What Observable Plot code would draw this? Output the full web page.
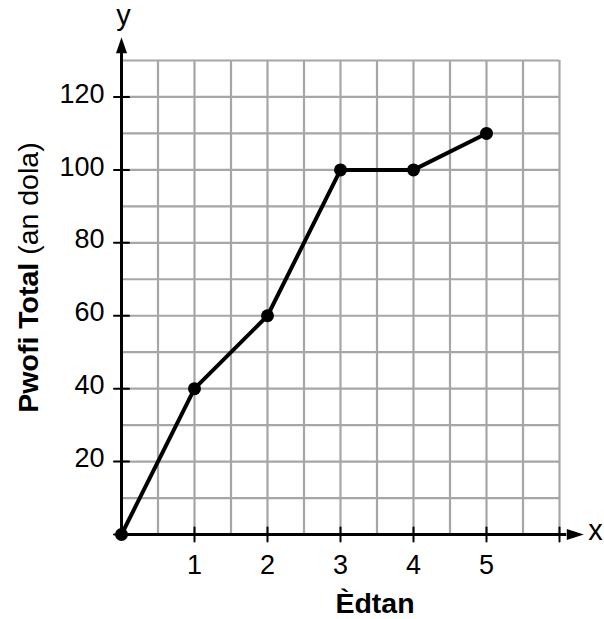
<!DOCTYPE html>
<html><head><meta charset="utf-8">
<script src="https://cdn.jsdelivr.net/npm/d3@7"></script>
<script src="https://cdn.jsdelivr.net/npm/@observablehq/plot@0.6"></script>
<style>
html,body{margin:0;padding:0;background:#fff}
</style>
</head><body><div id="chart"></div>
<script>
// Data
const edtan = [0, 1, 2, 3, 4, 5];
const pwofi = [0, 40, 60, 100, 100, 110];
// Axis ticks and labels
const xTicks = [1, 2, 3, 4, 5, 6];
const xTickLabels = ["1", "2", "3", "4", "5", ""];
const yTicks = [0, 20, 40, 60, 80, 100, 120];
const yTickLabels = ["", "20", "40", "60", "80", "100", "120"];
// Grid lines
const xGrid = [0.5, 1, 1.5, 2, 2.5, 3, 3.5, 4, 4.5, 5, 5.5, 6];
const yGrid = [10, 20, 30, 40, 50, 60, 70, 80, 90, 100, 110, 120, 130];
// Axis extents
const xMax = 6, yMax = 130;
const xAxisEnd = [{x: 6.1, y: 0}];
const yAxisEnd = [{x: 0, y: 132}];

const data = edtan.map((x, i) => ({x, y: pwofi[i]}));
const tickShape = {draw(context, l) { context.moveTo(0, 0); context.lineTo(0, -l); }};
const font = "'Liberation Sans', Arial, Helvetica, sans-serif";

const chart = Plot.plot({
  width: 604, height: 619,
  marginLeft: 121, marginRight: 45, marginTop: 60, marginBottom: 85,
  x: {domain: [0, xMax]},
  y: {domain: [0, yMax]},
  style: {fontFamily: font, fontSize: "27px", background: "white", color: "black", overflow: "visible"},
  marks: [
    Plot.ruleX(xGrid, {x: d => d, y1: 0, y2: yMax, stroke: "#a6a6a6", strokeWidth: 2.2}),
    Plot.ruleY(yGrid, {y: d => d, x1: 0, x2: xMax, stroke: "#a6a6a6", strokeWidth: 2.2}),
    Plot.ruleX([0], {y1: 0, y2: d => yAxisEnd[0].y, stroke: "black", strokeWidth: 3}),
    Plot.ruleY([0], {x1: 0, x2: d => xAxisEnd[0].x, stroke: "black", strokeWidth: 3}),
    Plot.vector(yAxisEnd, {x: "x", y: "y", length: 16, rotate: 0, shape: "spike", r: 5.5, anchor: "start", fill: "black", stroke: "none"}),
    Plot.vector(xAxisEnd, {x: "x", y: "y", length: 17, rotate: 90, shape: "spike", r: 5.5, anchor: "start", fill: "black", stroke: "none"}),
    Plot.vector(xTicks, {x: d => d, y: 0, length: 14, rotate: 0, shape: tickShape, anchor: "middle", stroke: "black", strokeWidth: 2}),
    Plot.vector(yTicks, {x: 0, y: d => d, length: 15, rotate: 90, shape: tickShape, anchor: "middle", stroke: "black", strokeWidth: 2}),
    Plot.axisX(xTicks, {tickSize: 0, tickPadding: 20, tickFormat: (d, i) => xTickLabels[xTicks.indexOf(d)], label: null, fontSize: 27}),
    Plot.axisY(yTicks, {tickSize: 0, tickPadding: 17, dy: -3, tickFormat: d => yTickLabels[yTicks.indexOf(d)], label: null, fontSize: 27}),
    Plot.line(data, {x: "x", y: "y", stroke: "black", strokeWidth: 4}),
    Plot.dot(data, {x: "x", y: "y", r: 6.5, fill: "black", stroke: "none"})
  ]
});

const svg = d3.select(chart);
const yl = svg.append("text")
  .attr("transform", "translate(38,277.5) rotate(-90)")
  .attr("text-anchor", "middle")
  .attr("font-family", font)
  .attr("font-size", 28.5)
  .attr("fill", "black");
yl.append("tspan").attr("font-weight", "bold").text("Pwofi Total");
yl.append("tspan").text(" (an dola)");

svg.append("text").attr("x", 375).attr("y", 613).attr("text-anchor", "middle")
  .attr("font-family", font).attr("font-size", 28.5).attr("font-weight", "bold").text("Èdtan");
svg.append("text").attr("x", 123.5).attr("y", 25).attr("text-anchor", "middle")
  .attr("font-family", font).attr("font-size", 29).text("y");
svg.append("text").attr("x", 595.5).attr("y", 540).attr("text-anchor", "middle")
  .attr("font-family", font).attr("font-size", 29).text("x");

document.getElementById("chart").appendChild(chart);
</script>
</body></html>
